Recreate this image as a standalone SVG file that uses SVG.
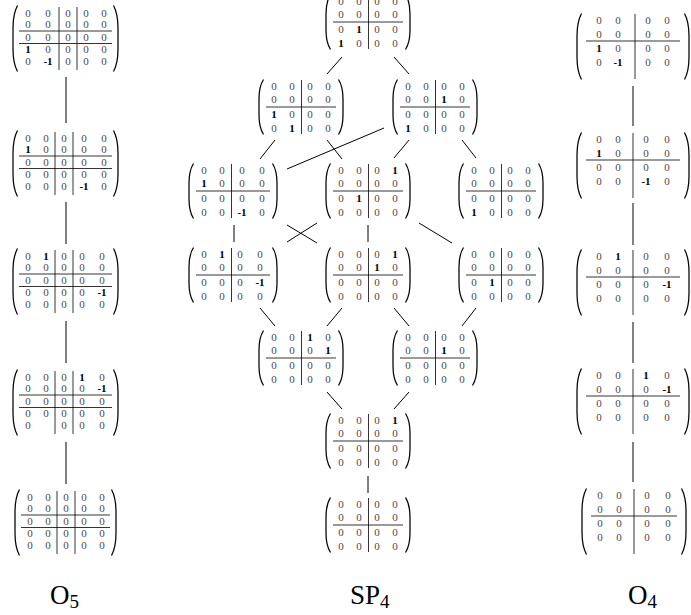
<svg xmlns="http://www.w3.org/2000/svg" width="691" height="615" viewBox="0 0 691 615">
<style>
text { font-family: "Liberation Serif", "DejaVu Serif", serif; font-size: 11px; fill: #4a4a4a; text-anchor: middle; }
text.b { font-weight: bold; fill: #000; }
text.lbl { font-size: 27px; fill: #000; text-anchor: start; }
.p { fill: none; stroke: #000; stroke-width: 1.25; }
.r { stroke: #000; stroke-width: 0.8; }
#edges line { stroke: #000; stroke-width: 1; }
</style>
<defs>
<path id="pL56" class="p" d="M5.5,0.5 C2,6 1,12 1,20 L1,36 C1,44 2,50 5.5,55.5"/>
<path id="pL67" class="p" d="M5.5,0.5 C2,7 1,14 1,23 L1,44 C1,53 2,60 5.5,66.5"/>
</defs>
<rect width="691" height="615" fill="#fff"/>

<g id="edges">
<line x1="66" y1="77" x2="66" y2="123"/>
<line x1="66" y1="202" x2="66" y2="244"/>
<line x1="66" y1="321" x2="66" y2="363"/>
<line x1="66" y1="442" x2="66" y2="484"/>
<line x1="633" y1="86" x2="633" y2="126"/>
<line x1="633" y1="203" x2="633" y2="245"/>
<line x1="633" y1="322" x2="633" y2="363"/>
<line x1="633" y1="442" x2="633" y2="482"/>
<line x1="342" y1="57" x2="327" y2="74"/>
<line x1="394" y1="57" x2="409" y2="74"/>
<line x1="275" y1="140" x2="260" y2="159"/>
<line x1="327" y1="140" x2="342" y2="159"/>
<line x1="384" y1="128" x2="287" y2="169"/>
<line x1="409" y1="140" x2="394" y2="158"/>
<line x1="462" y1="140" x2="476" y2="158"/>
<line x1="234" y1="225" x2="234" y2="242"/>
<line x1="287" y1="225" x2="317" y2="243"/>
<line x1="317" y1="223" x2="287" y2="242"/>
<line x1="368" y1="225" x2="368" y2="242"/>
<line x1="419" y1="223" x2="452" y2="243"/>
<line x1="260" y1="308" x2="275" y2="326"/>
<line x1="342" y1="308" x2="327" y2="326"/>
<line x1="394" y1="308" x2="409" y2="326"/>
<line x1="476" y1="308" x2="462" y2="326"/>
<line x1="327" y1="392" x2="342" y2="409"/>
<line x1="409" y1="392" x2="394" y2="409"/>
<line x1="368" y1="476" x2="368" y2="493"/>
</g>

<!-- O5 column -->
<g id="o5-1" transform="translate(12,5)">
<use href="#pL67"/><use href="#pL67" transform="translate(107,0) scale(-1,1)"/>
<line class="r" x1="7" y1="26" x2="100" y2="26"/><line class="r" x1="7" y1="38.5" x2="100" y2="38.5"/>
<line class="r" x1="47" y1="2" x2="47" y2="65"/><line class="r" x1="65" y1="2" x2="65" y2="65"/>
<text x="16" y="11.5">0</text><text x="36" y="11.5">0</text><text x="56" y="11.5">0</text><text x="74" y="11.5">0</text><text x="92" y="11.5">0</text>
<text x="16" y="23">0</text><text x="36" y="23">0</text><text x="56" y="23">0</text><text x="74" y="23">0</text><text x="92" y="23">0</text>
<text x="16" y="35.5">0</text><text x="36" y="35.5">0</text><text x="56" y="35.5">0</text><text x="74" y="35.5">0</text><text x="92" y="35.5">0</text>
<text class="b" x="16" y="48">1</text><text x="36" y="48">0</text><text x="56" y="48">0</text><text x="74" y="48">0</text><text x="92" y="48">0</text>
<text x="16" y="59.5">0</text><text class="b" x="36" y="59.5">-1</text><text x="56" y="59.5">0</text><text x="74" y="59.5">0</text><text x="92" y="59.5">0</text>
</g>
<g id="o5-2" transform="translate(12,130)">
<use href="#pL67"/><use href="#pL67" transform="translate(107,0) scale(-1,1)"/>
<line class="r" x1="7" y1="26" x2="100" y2="26"/><line class="r" x1="7" y1="38.5" x2="100" y2="38.5"/>
<line class="r" x1="43" y1="2" x2="43" y2="65"/><line class="r" x1="61" y1="2" x2="61" y2="65"/>
<text x="16" y="11.5">0</text><text x="34" y="11.5">0</text><text x="52" y="11.5">0</text><text x="72" y="11.5">0</text><text x="92" y="11.5">0</text>
<text class="b" x="16" y="23">1</text><text x="34" y="23">0</text><text x="52" y="23">0</text><text x="72" y="23">0</text><text x="92" y="23">0</text>
<text x="16" y="35.5">0</text><text x="34" y="35.5">0</text><text x="52" y="35.5">0</text><text x="72" y="35.5">0</text><text x="92" y="35.5">0</text>
<text x="16" y="48">0</text><text x="34" y="48">0</text><text x="52" y="48">0</text><text x="72" y="48">0</text><text x="92" y="48">0</text>
<text x="16" y="59.5">0</text><text x="34" y="59.5">0</text><text x="52" y="59.5">0</text><text class="b" x="72" y="59.5">-1</text><text x="92" y="59.5">0</text>
</g>
<g id="o5-3" transform="translate(12,248)">
<use href="#pL67"/><use href="#pL67" transform="translate(107,0) scale(-1,1)"/>
<line class="r" x1="7" y1="26" x2="100" y2="26"/><line class="r" x1="7" y1="38.5" x2="100" y2="38.5"/>
<line class="r" x1="43" y1="2" x2="43" y2="65"/><line class="r" x1="61" y1="2" x2="61" y2="65"/>
<text x="16" y="11.5">0</text><text class="b" x="34" y="11.5">1</text><text x="52" y="11.5">0</text><text x="70" y="11.5">0</text><text x="90" y="11.5">0</text>
<text x="16" y="23">0</text><text x="34" y="23">0</text><text x="52" y="23">0</text><text x="70" y="23">0</text><text x="90" y="23">0</text>
<text x="16" y="35.5">0</text><text x="34" y="35.5">0</text><text x="52" y="35.5">0</text><text x="70" y="35.5">0</text><text x="90" y="35.5">0</text>
<text x="16" y="48">0</text><text x="34" y="48">0</text><text x="52" y="48">0</text><text x="70" y="48">0</text><text class="b" x="90" y="48">-1</text>
<text x="16" y="59.5">0</text><text x="34" y="59.5">0</text><text x="52" y="59.5">0</text><text x="70" y="59.5">0</text><text x="90" y="59.5">0</text>
</g>
<g id="o5-4" transform="translate(12,369)">
<use href="#pL67"/><use href="#pL67" transform="translate(107,0) scale(-1,1)"/>
<line class="r" x1="7" y1="26" x2="100" y2="26"/><line class="r" x1="7" y1="38.5" x2="100" y2="38.5"/>
<line class="r" x1="43" y1="2" x2="43" y2="65"/><line class="r" x1="61" y1="2" x2="61" y2="65"/>
<text x="16" y="11.5">0</text><text x="34" y="11.5">0</text><text x="52" y="11.5">0</text><text class="b" x="70" y="11.5">1</text><text x="90" y="11.5">0</text>
<text x="16" y="23">0</text><text x="34" y="23">0</text><text x="52" y="23">0</text><text x="70" y="23">0</text><text class="b" x="90" y="23">-1</text>
<text x="16" y="35.5">0</text><text x="34" y="35.5">0</text><text x="52" y="35.5">0</text><text x="70" y="35.5">0</text><text x="90" y="35.5">0</text>
<text x="16" y="48">0</text><text x="34" y="48">0</text><text x="52" y="48">0</text><text x="70" y="48">0</text><text x="90" y="48">0</text>
<text x="16" y="59.5">0</text><text x="52" y="59.5">0</text><text x="70" y="59.5">0</text><text x="90" y="59.5">0</text>
</g>
<g id="o5-5" transform="translate(14,489)">
<use href="#pL67"/><use href="#pL67" transform="translate(103,0) scale(-1,1)"/>
<line class="r" x1="7" y1="26" x2="96" y2="26"/><line class="r" x1="7" y1="38.5" x2="96" y2="38.5"/>
<line class="r" x1="43" y1="2" x2="43" y2="65"/><line class="r" x1="61" y1="2" x2="61" y2="65"/>
<text x="16" y="11.5">0</text><text x="34" y="11.5">0</text><text x="52" y="11.5">0</text><text x="70" y="11.5">0</text><text x="88" y="11.5">0</text>
<text x="16" y="23">0</text><text x="34" y="23">0</text><text x="52" y="23">0</text><text x="70" y="23">0</text><text x="88" y="23">0</text>
<text x="16" y="35.5">0</text><text x="34" y="35.5">0</text><text x="52" y="35.5">0</text><text x="70" y="35.5">0</text><text x="88" y="35.5">0</text>
<text x="16" y="48">0</text><text x="34" y="48">0</text><text x="52" y="48">0</text><text x="70" y="48">0</text><text x="88" y="48">0</text>
<text x="16" y="59.5">0</text><text x="34" y="59.5">0</text><text x="52" y="59.5">0</text><text x="70" y="59.5">0</text><text x="88" y="59.5">0</text>
</g>

<!-- SP4 -->
<g id="sp-1" transform="translate(325,-6)">
<use href="#pL56"/><use href="#pL56" transform="translate(86,0) scale(-1,1)"/>
<line class="r" x1="8" y1="28" x2="78" y2="28"/><line class="r" x1="43.5" y1="1" x2="43.5" y2="55"/>
<text x="16" y="10.5">0</text><text x="34" y="10.5">0</text><text x="52" y="10.5">0</text><text x="70" y="10.5">0</text>
<text x="16" y="24">0</text><text x="34" y="24">0</text><text x="52" y="24">0</text><text x="70" y="24">0</text>
<text x="16" y="38.5">0</text><text class="b" x="34" y="38.5">1</text><text x="52" y="38.5">0</text><text x="70" y="38.5">0</text>
<text class="b" x="16" y="52.5">1</text><text x="34" y="52.5">0</text><text x="52" y="52.5">0</text><text x="70" y="52.5">0</text>
</g>
<g id="sp-2" transform="translate(258,79)">
<use href="#pL56"/><use href="#pL56" transform="translate(86,0) scale(-1,1)"/>
<line class="r" x1="8" y1="28" x2="78" y2="28"/><line class="r" x1="43.5" y1="1" x2="43.5" y2="55"/>
<text x="16" y="10.5">0</text><text x="34" y="10.5">0</text><text x="52" y="10.5">0</text><text x="70" y="10.5">0</text>
<text x="16" y="24">0</text><text x="34" y="24">0</text><text x="52" y="24">0</text><text x="70" y="24">0</text>
<text class="b" x="16" y="38.5">1</text><text x="34" y="38.5">0</text><text x="52" y="38.5">0</text><text x="70" y="38.5">0</text>
<text x="16" y="52.5">0</text><text class="b" x="34" y="52.5">1</text><text x="52" y="52.5">0</text><text x="70" y="52.5">0</text>
</g>
<g id="sp-3" transform="translate(392,79)">
<use href="#pL56"/><use href="#pL56" transform="translate(86,0) scale(-1,1)"/>
<line class="r" x1="8" y1="28" x2="78" y2="28"/><line class="r" x1="43.5" y1="1" x2="43.5" y2="55"/>
<text x="16" y="10.5">0</text><text x="34" y="10.5">0</text><text x="52" y="10.5">0</text><text x="70" y="10.5">0</text>
<text x="16" y="24">0</text><text x="34" y="24">0</text><text class="b" x="52" y="24">1</text><text x="70" y="24">0</text>
<text x="16" y="38.5">0</text><text x="34" y="38.5">0</text><text x="52" y="38.5">0</text><text x="70" y="38.5">0</text>
<text class="b" x="16" y="52.5">1</text><text x="34" y="52.5">0</text><text x="52" y="52.5">0</text><text x="70" y="52.5">0</text>
</g>
<g id="sp-4" transform="translate(188,163)">
<use href="#pL56"/><use href="#pL56" transform="translate(90,0) scale(-1,1)"/>
<line class="r" x1="8" y1="28" x2="82" y2="28"/><line class="r" x1="43.5" y1="1" x2="43.5" y2="55"/>
<text x="16" y="10.5">0</text><text x="34" y="10.5">0</text><text x="54" y="10.5">0</text><text x="74" y="10.5">0</text>
<text class="b" x="16" y="24">1</text><text x="34" y="24">0</text><text x="54" y="24">0</text><text x="74" y="24">0</text>
<text x="16" y="38.5">0</text><text x="34" y="38.5">0</text><text x="54" y="38.5">0</text><text x="74" y="38.5">0</text>
<text x="16" y="52.5">0</text><text x="34" y="52.5">0</text><text class="b" x="54" y="52.5">-1</text><text x="74" y="52.5">0</text>
</g>
<g id="sp-5" transform="translate(325,163)">
<use href="#pL56"/><use href="#pL56" transform="translate(86,0) scale(-1,1)"/>
<line class="r" x1="8" y1="28" x2="78" y2="28"/><line class="r" x1="43.5" y1="1" x2="43.5" y2="55"/>
<text x="16" y="10.5">0</text><text x="34" y="10.5">0</text><text x="52" y="10.5">0</text><text class="b" x="70" y="10.5">1</text>
<text x="16" y="24">0</text><text x="34" y="24">0</text><text x="52" y="24">0</text><text x="70" y="24">0</text>
<text x="16" y="38.5">0</text><text class="b" x="34" y="38.5">1</text><text x="52" y="38.5">0</text><text x="70" y="38.5">0</text>
<text x="16" y="52.5">0</text><text x="34" y="52.5">0</text><text x="52" y="52.5">0</text><text x="70" y="52.5">0</text>
</g>
<g id="sp-6" transform="translate(458,163)">
<use href="#pL56"/><use href="#pL56" transform="translate(86,0) scale(-1,1)"/>
<line class="r" x1="8" y1="28" x2="78" y2="28"/><line class="r" x1="43.5" y1="1" x2="43.5" y2="55"/>
<text x="16" y="10.5">0</text><text x="34" y="10.5">0</text><text x="52" y="10.5">0</text><text x="70" y="10.5">0</text>
<text x="16" y="24">0</text><text x="34" y="24">0</text><text x="52" y="24">0</text><text x="70" y="24">0</text>
<text x="16" y="38.5">0</text><text x="34" y="38.5">0</text><text x="52" y="38.5">0</text><text x="70" y="38.5">0</text>
<text class="b" x="16" y="52.5">1</text><text x="34" y="52.5">0</text><text x="52" y="52.5">0</text><text x="70" y="52.5">0</text>
</g>
<g id="sp-7" transform="translate(188,247)">
<use href="#pL56"/><use href="#pL56" transform="translate(90,0) scale(-1,1)"/>
<line class="r" x1="8" y1="28" x2="82" y2="28"/><line class="r" x1="43.5" y1="1" x2="43.5" y2="55"/>
<text x="16" y="10.5">0</text><text class="b" x="34" y="10.5">1</text><text x="52" y="10.5">0</text><text x="72" y="10.5">0</text>
<text x="16" y="24">0</text><text x="34" y="24">0</text><text x="52" y="24">0</text><text x="72" y="24">0</text>
<text x="16" y="38.5">0</text><text x="34" y="38.5">0</text><text x="52" y="38.5">0</text><text class="b" x="72" y="38.5">-1</text>
<text x="16" y="52.5">0</text><text x="34" y="52.5">0</text><text x="52" y="52.5">0</text><text x="72" y="52.5">0</text>
</g>
<g id="sp-8" transform="translate(325,247)">
<use href="#pL56"/><use href="#pL56" transform="translate(86,0) scale(-1,1)"/>
<line class="r" x1="8" y1="28" x2="78" y2="28"/><line class="r" x1="43.5" y1="1" x2="43.5" y2="55"/>
<text x="16" y="10.5">0</text><text x="34" y="10.5">0</text><text x="52" y="10.5">0</text><text class="b" x="70" y="10.5">1</text>
<text x="16" y="24">0</text><text x="34" y="24">0</text><text class="b" x="52" y="24">1</text><text x="70" y="24">0</text>
<text x="16" y="38.5">0</text><text x="34" y="38.5">0</text><text x="52" y="38.5">0</text><text x="70" y="38.5">0</text>
<text x="16" y="52.5">0</text><text x="34" y="52.5">0</text><text x="52" y="52.5">0</text><text x="70" y="52.5">0</text>
</g>
<g id="sp-9" transform="translate(458,247)">
<use href="#pL56"/><use href="#pL56" transform="translate(86,0) scale(-1,1)"/>
<line class="r" x1="8" y1="28" x2="78" y2="28"/><line class="r" x1="43.5" y1="1" x2="43.5" y2="55"/>
<text x="16" y="10.5">0</text><text x="34" y="10.5">0</text><text x="52" y="10.5">0</text><text x="70" y="10.5">0</text>
<text x="16" y="24">0</text><text x="34" y="24">0</text><text x="52" y="24">0</text><text x="70" y="24">0</text>
<text x="16" y="38.5">0</text><text class="b" x="34" y="38.5">1</text><text x="52" y="38.5">0</text><text x="70" y="38.5">0</text>
<text x="16" y="52.5">0</text><text x="34" y="52.5">0</text><text x="52" y="52.5">0</text><text x="70" y="52.5">0</text>
</g>
<g id="sp-10" transform="translate(258,330)">
<use href="#pL56"/><use href="#pL56" transform="translate(86,0) scale(-1,1)"/>
<line class="r" x1="8" y1="28" x2="78" y2="28"/><line class="r" x1="43.5" y1="1" x2="43.5" y2="55"/>
<text x="16" y="10.5">0</text><text x="34" y="10.5">0</text><text class="b" x="52" y="10.5">1</text><text x="70" y="10.5">0</text>
<text x="16" y="24">0</text><text x="34" y="24">0</text><text x="52" y="24">0</text><text class="b" x="70" y="24">1</text>
<text x="16" y="38.5">0</text><text x="34" y="38.5">0</text><text x="52" y="38.5">0</text><text x="70" y="38.5">0</text>
<text x="16" y="52.5">0</text><text x="34" y="52.5">0</text><text x="52" y="52.5">0</text><text x="70" y="52.5">0</text>
</g>
<g id="sp-11" transform="translate(392,330)">
<use href="#pL56"/><use href="#pL56" transform="translate(86,0) scale(-1,1)"/>
<line class="r" x1="8" y1="28" x2="78" y2="28"/><line class="r" x1="43.5" y1="1" x2="43.5" y2="55"/>
<text x="16" y="10.5">0</text><text x="34" y="10.5">0</text><text x="52" y="10.5">0</text><text x="70" y="10.5">0</text>
<text x="16" y="24">0</text><text x="34" y="24">0</text><text class="b" x="52" y="24">1</text><text x="70" y="24">0</text>
<text x="16" y="38.5">0</text><text x="34" y="38.5">0</text><text x="52" y="38.5">0</text><text x="70" y="38.5">0</text>
<text x="16" y="52.5">0</text><text x="34" y="52.5">0</text><text x="52" y="52.5">0</text><text x="70" y="52.5">0</text>
</g>
<g id="sp-12" transform="translate(325,413)">
<use href="#pL56"/><use href="#pL56" transform="translate(86,0) scale(-1,1)"/>
<line class="r" x1="8" y1="28" x2="78" y2="28"/><line class="r" x1="43.5" y1="1" x2="43.5" y2="55"/>
<text x="16" y="10.5">0</text><text x="34" y="10.5">0</text><text x="52" y="10.5">0</text><text class="b" x="70" y="10.5">1</text>
<text x="16" y="24">0</text><text x="34" y="24">0</text><text x="52" y="24">0</text><text x="70" y="24">0</text>
<text x="16" y="38.5">0</text><text x="34" y="38.5">0</text><text x="52" y="38.5">0</text><text x="70" y="38.5">0</text>
<text x="16" y="52.5">0</text><text x="34" y="52.5">0</text><text x="52" y="52.5">0</text><text x="70" y="52.5">0</text>
</g>
<g id="sp-13" transform="translate(325,497)">
<use href="#pL56"/><use href="#pL56" transform="translate(86,0) scale(-1,1)"/>
<line class="r" x1="8" y1="28" x2="78" y2="28"/><line class="r" x1="43.5" y1="1" x2="43.5" y2="55"/>
<text x="16" y="10.5">0</text><text x="34" y="10.5">0</text><text x="52" y="10.5">0</text><text x="70" y="10.5">0</text>
<text x="16" y="24">0</text><text x="34" y="24">0</text><text x="52" y="24">0</text><text x="70" y="24">0</text>
<text x="16" y="38.5">0</text><text x="34" y="38.5">0</text><text x="52" y="38.5">0</text><text x="70" y="38.5">0</text>
<text x="16" y="52.5">0</text><text x="34" y="52.5">0</text><text x="52" y="52.5">0</text><text x="70" y="52.5">0</text>
</g>

<!-- O4 column -->
<g id="o4-1" transform="translate(576,13)">
<use href="#pL67"/><use href="#pL67" transform="translate(114,0) scale(-1,1)"/>
<line class="r" x1="10" y1="28" x2="104" y2="28"/><line class="r" x1="59" y1="1" x2="59" y2="66"/>
<text x="23" y="11">0</text><text x="42" y="11">0</text><text x="72" y="11">0</text><text x="91" y="11">0</text>
<text x="23" y="24.5">0</text><text x="42" y="24.5">0</text><text x="72" y="24.5">0</text><text x="91" y="24.5">0</text>
<text class="b" x="23" y="38.5">1</text><text x="42" y="38.5">0</text><text x="72" y="38.5">0</text><text x="91" y="38.5">0</text>
<text x="23" y="52.5">0</text><text class="b" x="42" y="52.5">-1</text><text x="72" y="52.5">0</text><text x="91" y="52.5">0</text>
</g>
<g id="o4-2" transform="translate(576,132)">
<use href="#pL67"/><use href="#pL67" transform="translate(114,0) scale(-1,1)"/>
<line class="r" x1="10" y1="28" x2="104" y2="28"/><line class="r" x1="57" y1="1" x2="57" y2="66"/>
<text x="23" y="11">0</text><text x="42" y="11">0</text><text x="70" y="11">0</text><text x="91" y="11">0</text>
<text class="b" x="23" y="24.5">1</text><text x="42" y="24.5">0</text><text x="70" y="24.5">0</text><text x="91" y="24.5">0</text>
<text x="23" y="38.5">0</text><text x="42" y="38.5">0</text><text x="70" y="38.5">0</text><text x="91" y="38.5">0</text>
<text x="23" y="52.5">0</text><text x="42" y="52.5">0</text><text class="b" x="70" y="52.5">-1</text><text x="91" y="52.5">0</text>
</g>
<g id="o4-3" transform="translate(576,249)">
<use href="#pL67"/><use href="#pL67" transform="translate(114,0) scale(-1,1)"/>
<line class="r" x1="10" y1="28" x2="104" y2="28"/><line class="r" x1="57" y1="1" x2="57" y2="66"/>
<text x="23" y="11">0</text><text class="b" x="42" y="11">1</text><text x="70" y="11">0</text><text x="91" y="11">0</text>
<text x="23" y="24.5">0</text><text x="42" y="24.5">0</text><text x="70" y="24.5">0</text><text x="91" y="24.5">0</text>
<text x="23" y="38.5">0</text><text x="42" y="38.5">0</text><text x="70" y="38.5">0</text><text class="b" x="91" y="38.5">-1</text>
<text x="23" y="52.5">0</text><text x="42" y="52.5">0</text><text x="70" y="52.5">0</text><text x="91" y="52.5">0</text>
</g>
<g id="o4-4" transform="translate(576,368)">
<use href="#pL67"/><use href="#pL67" transform="translate(114,0) scale(-1,1)"/>
<line class="r" x1="10" y1="28" x2="104" y2="28"/><line class="r" x1="57" y1="1" x2="57" y2="66"/>
<text x="23" y="11">0</text><text x="42" y="11">0</text><text class="b" x="70" y="11">1</text><text x="91" y="11">0</text>
<text x="23" y="24.5">0</text><text x="42" y="24.5">0</text><text x="70" y="24.5">0</text><text class="b" x="91" y="24.5">-1</text>
<text x="23" y="38.5">0</text><text x="42" y="38.5">0</text><text x="70" y="38.5">0</text><text x="91" y="38.5">0</text>
<text x="23" y="52.5">0</text><text x="42" y="52.5">0</text><text x="70" y="52.5">0</text><text x="91" y="52.5">0</text>
</g>
<g id="o4-5" transform="translate(581,488)">
<use href="#pL67"/><use href="#pL67" transform="translate(106,0) scale(-1,1)"/>
<line class="r" x1="10" y1="28" x2="96" y2="28"/><line class="r" x1="53" y1="1" x2="53" y2="66"/>
<text x="19" y="11">0</text><text x="38" y="11">0</text><text x="66" y="11">0</text><text x="87" y="11">0</text>
<text x="19" y="24.5">0</text><text x="38" y="24.5">0</text><text x="66" y="24.5">0</text><text x="87" y="24.5">0</text>
<text x="19" y="38.5">0</text><text x="38" y="38.5">0</text><text x="66" y="38.5">0</text><text x="87" y="38.5">0</text>
<text x="19" y="52.5">0</text><text x="38" y="52.5">0</text><text x="66" y="52.5">0</text><text x="87" y="52.5">0</text>
</g>

<g id="labels">
<text class="lbl" x="50" y="604">O<tspan font-size="19" dy="4">5</tspan></text>
<text class="lbl" x="350" y="604">SP<tspan font-size="19" dy="4">4</tspan></text>
<text class="lbl" x="628" y="604">O<tspan font-size="19" dy="4">4</tspan></text>
</g>
</svg>
